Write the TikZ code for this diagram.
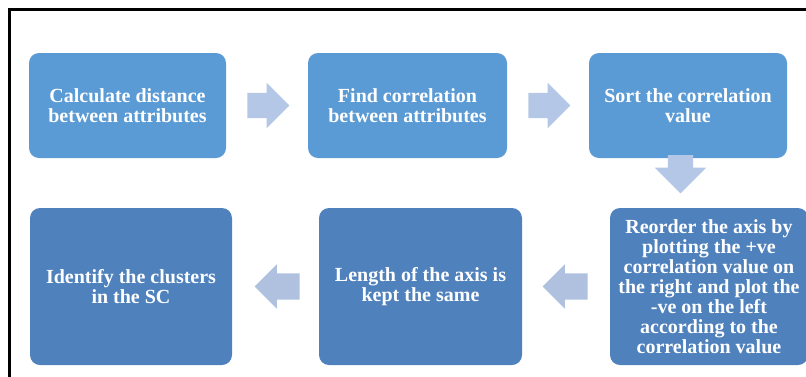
\documentclass[tikz,border=0pt]{standalone}
\usepackage{fontspec}
\setmainfont{Liberation Serif}
\usetikzlibrary{shapes.arrows,calc}
\definecolor{topblue}{HTML}{5B9BD5}
\definecolor{botblue}{HTML}{4F81BD}
\definecolor{arrowblue}{HTML}{B4C7E7}
\definecolor{arrowgray}{HTML}{AFC1DF}
\tikzset{
  stepbox/.style={draw=none, rounded corners=10pt, text=white, align=center,
    inner sep=0pt, font=\fontsize{20}{20}\selectfont\bfseries},
  topbox/.style={stepbox, fill=topblue},
  botbox/.style={stepbox, fill=botblue},
  blockarrow/.style={single arrow, fill=arrowblue, draw=none, inner sep=12.5pt,
    single arrow head indent=0pt, anchor=tail},
}
\begin{document}
\begin{tikzpicture}[x=1pt,y=-1pt]
\useasboundingbox (0,0) rectangle (806,376);
% frame
\draw[line width=3pt] (9,380) -- (9,9) -- (810,9);
% top row
\node[topbox, minimum width=197pt, minimum height=105pt] (b1) at (127.5,105.5) {Calculate distance\\between attributes};
\node[topbox, minimum width=199pt, minimum height=105pt] (b2) at (407.5,105.5) {Find correlation\\between attributes};
\node[topbox, minimum width=198pt, minimum height=105pt] (b3) at (688,105.5) {Sort the correlation\\value};
% bottom row
\node[botbox, minimum width=202pt, minimum height=157pt] (b4) at (131,286.5) {Identify the clusters\\in the SC};
\node[botbox, minimum width=203pt, minimum height=157pt] (b5) at (420.5,286.5) {Length of the axis is\\kept the same};
\node[botbox, minimum width=198pt, minimum height=157pt] (b6) at (709,286.5) {Reorder the axis by\\plotting the +ve\\correlation value on\\the right and plot the\\-ve on the left\\according to the\\correlation value};
% arrows
\node[blockarrow, minimum height=42pt, single arrow head extend=10pt] (a1) at ([xshift=21pt]b1.east) {};
\node[blockarrow, minimum height=42pt, single arrow head extend=10pt] (a2) at ([xshift=21pt]b2.east) {};
\node[blockarrow, minimum height=37pt, single arrow head extend=13pt, shape border rotate=270] (a3) at (680.5,155) {};
\node[blockarrow, fill=arrowgray, inner sep=13pt, minimum height=45pt, single arrow head extend=9pt, shape border rotate=180] (a4) at ([xshift=-22pt]b6.west) {};
\node[blockarrow, fill=arrowgray, inner sep=13pt, minimum height=45pt, single arrow head extend=9pt, shape border rotate=180] (a5) at ([xshift=-19pt]b5.west) {};
\end{tikzpicture}
\end{document}
